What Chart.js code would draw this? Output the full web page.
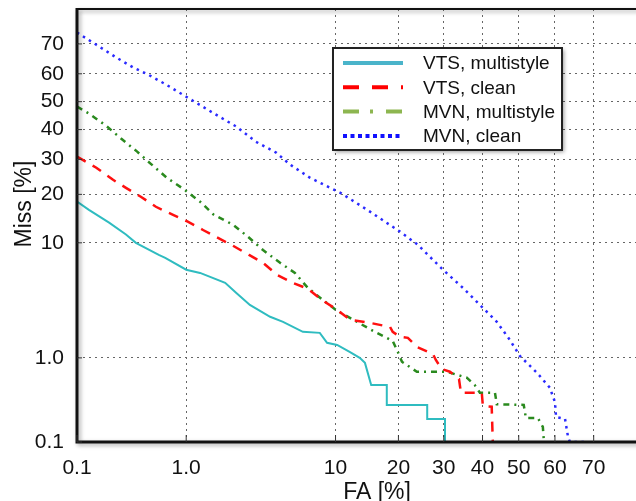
<!DOCTYPE html>
<html>
<head>
<meta charset="utf-8">
<script src="https://cdn.jsdelivr.net/npm/chart.js@4.4.1/dist/chart.umd.min.js"></script>
<style>
  html, body { margin: 0; padding: 0; background: #fff; overflow: hidden; }
  #wrap { width: 636px; height: 501px; position: relative; }
</style>
</head>
<body>
<div id="wrap"><canvas id="myChart"></canvas></div>
<script>
//data (FA and Miss in %)
const tickValues = [0.1, 1, 10, 20, 30, 40, 50, 60, 70];
const tickLabels = ['0.1', '1.0', '10', '20', '30', '40', '50', '60', '70'];

const vtsMultiFA   = [0.1, 0.132, 0.208, 0.30, 0.37, 0.59, 0.67, 1.0, 1.29, 2.0, 2.4, 3.0, 4.1, 4.96, 6.55, 8.2, 9.0, 10.2, 11.9, 13.3, 14.1, 15.1, 17.8, 17.8, 26.1, 26.1, 30.3, 30.3, 32.0];
const vtsMultiMiss = [18.2, 16.3, 13.6, 11.4, 10.0, 8.2, 7.8, 6.35, 6.0, 5.0, 4.14, 3.25, 2.54, 2.28, 1.83, 1.79, 1.43, 1.36, 1.15, 1.0, 0.885, 0.505, 0.505, 0.294, 0.294, 0.198, 0.198, 0.1, 0.1];

const vtsCleanFA   = [0.1, 0.155, 0.227, 0.30, 0.41, 0.557, 0.78, 1.03, 1.36, 1.77, 2.28, 2.96, 3.68, 4.54, 5.7, 7.0, 8.4, 10.2, 11.9, 14.9, 18.4, 18.9, 20.3, 21.9, 23.8, 27.4, 28.1, 29.5, 31.5, 33.8, 34.3, 39.8, 40.1, 42.5, 42.8];
const vtsCleanMiss = [30.9, 27.5, 23.9, 21.7, 19.4, 17.0, 15.2, 13.8, 12.2, 10.8, 9.55, 8.2, 7.17, 5.8, 5.0, 4.47, 3.6, 2.94, 2.38, 2.23, 2.04, 1.83, 1.64, 1.6, 1.3, 1.1, 0.95, 0.76, 0.71, 0.59, 0.41, 0.41, 0.286, 0.28, 0.1];

const mvnMultiFA   = [0.1, 0.132, 0.194, 0.27, 0.38, 0.50, 0.69, 0.94, 1.29, 1.65, 2.28, 2.91, 3.68, 4.75, 5.87, 7.0, 8.5, 10.2, 12.9, 15.7, 18.9, 19.9, 20.7, 23.8, 30.7, 35.8, 37.9, 39.3, 43.4, 43.9, 51.4, 52.0, 55.3, 56.7, 57.0];
const mvnMultiMiss = [48.2, 45.7, 41.4, 36.9, 32.5, 28.7, 24.5, 21.5, 18.2, 15.2, 13.2, 11.0, 8.9, 7.17, 6.0, 4.55, 3.6, 2.88, 2.28, 1.83, 1.49, 1.15, 0.91, 0.71, 0.71, 0.61, 0.505, 0.41, 0.41, 0.30, 0.295, 0.204, 0.204, 0.157, 0.1];

const mvnCleanFA   = [0.1, 0.155, 0.243, 0.35, 0.476, 0.68, 1.0, 1.71, 2.4, 3.3, 4.48, 5.48, 7.2, 10.6, 14.9, 20.3, 24.0, 29.8, 34.8, 40.1, 43.9, 47.5, 50.3, 55.1, 58.6, 60.0, 60.3, 62.7, 63.5, 64.0, 68.3];
const mvnCleanMiss = [73.5, 69.8, 65.6, 62.2, 59.7, 56.2, 51.8, 45.3, 41.1, 35.8, 32.2, 28.4, 24.5, 20.4, 15.9, 11.9, 9.7, 6.35, 4.55, 3.06, 2.28, 1.53, 1.05, 0.69, 0.47, 0.32, 0.21, 0.198, 0.116, 0.1, 0.1];

const FONT = "'Liberation Sans', Arial, Helvetica, sans-serif";

// inverse normal CDF (Acklam), input in percent -> normal deviate
function z(pct) {
    const p = pct / 100;
    const a = [-3.969683028665376e+01, 2.209460984245205e+02, -2.759285104469687e+02, 1.383577518672690e+02, -3.066479806614716e+01, 2.506628277459239e+00];
    const b = [-5.447609879822406e+01, 1.615858368580409e+02, -1.556989798598866e+02, 6.680131188771972e+01, -1.328068155288572e+01];
    const c = [-7.784894002430293e-03, -3.223964580411365e-01, -2.400758277161838e+00, -2.549732539343734e+00, 4.374664141464968e+00, 2.938163982698783e+00];
    const d = [7.784695709041462e-03, 3.224671290700398e-01, 2.445134137142996e+00, 3.754408661907416e+00];
    const plow = 0.02425;
    let q, r;
    if (p < plow) {
        q = Math.sqrt(-2 * Math.log(p));
        return (((((c[0]*q+c[1])*q+c[2])*q+c[3])*q+c[4])*q+c[5]) / ((((d[0]*q+d[1])*q+d[2])*q+d[3])*q+1);
    }
    if (p <= 1 - plow) {
        q = p - 0.5; r = q * q;
        return (((((a[0]*r+a[1])*r+a[2])*r+a[3])*r+a[4])*r+a[5])*q / (((((b[0]*r+b[1])*r+b[2])*r+b[3])*r+b[4])*r+1);
    }
    q = Math.sqrt(-2 * Math.log(1 - p));
    return -(((((c[0]*q+c[1])*q+c[2])*q+c[3])*q+c[4])*q+c[5]) / ((((d[0]*q+d[1])*q+d[2])*q+d[3])*q+1);
}

function toPoints(fa, miss) {
    return fa.map((v, i) => ({ x: z(v), y: z(miss[i]) }));
}

function setTicks(scale) {
    scale.ticks = tickValues.map(v => ({ value: z(v) }));
}

// frame with shadow + small inward ticks
const framePlugin = {
    id: 'frame',
    afterDatasetsDraw(chart) {
        const { ctx, chartArea: a, scales } = chart;
        ctx.save();
        ctx.strokeStyle = '#111';
        ctx.shadowColor = 'rgba(0,0,0,0.35)';
        ctx.shadowBlur = 4;
        ctx.shadowOffsetX = 2;
        ctx.shadowOffsetY = 2;
        ctx.lineWidth = 2;
        ctx.beginPath();
        ctx.moveTo(a.left, a.top); ctx.lineTo(a.right + 5, a.top);
        ctx.stroke();
        ctx.lineWidth = 3;
        ctx.beginPath();
        ctx.moveTo(a.left, a.top - 1); ctx.lineTo(a.left, a.bottom); ctx.lineTo(a.right + 5, a.bottom);
        ctx.stroke();
        ctx.shadowColor = 'transparent';
        ctx.lineWidth = 1;
        ctx.strokeStyle = '#333';
        ctx.beginPath();
        tickValues.forEach(v => {
            const x = scales.x.getPixelForValue(z(v));
            ctx.moveTo(x, a.bottom); ctx.lineTo(x, a.bottom - 7);
            const y = scales.y.getPixelForValue(z(v));
            ctx.moveTo(a.left, y); ctx.lineTo(a.left + 5, y);
        });
        ctx.stroke();
        ctx.restore();
    }
};

// legend box inside the plot
const legendPlugin = {
    id: 'boxLegend',
    afterDraw(chart) {
        const { ctx } = chart;
        const x0 = 333, y0 = 48, w = 229, h = 102;
        ctx.save();
        ctx.fillStyle = '#fff';
        ctx.shadowColor = 'rgba(0,0,0,0.4)';
        ctx.shadowBlur = 4;
        ctx.shadowOffsetX = 2;
        ctx.shadowOffsetY = 2;
        ctx.fillRect(x0, y0, w, h);
        ctx.shadowColor = 'transparent';
        ctx.strokeStyle = '#222';
        ctx.lineWidth = 2;
        ctx.strokeRect(x0, y0, w, h);
        ctx.font = '19px ' + FONT;
        ctx.textBaseline = 'middle';
        ctx.textAlign = 'left';
        chart.data.datasets.forEach((ds, i) => {
            const y = 63 + i * 24.3;
            ctx.strokeStyle = ds.legendColor;
            ctx.lineWidth = 4;
            ctx.setLineDash(ds.legendDash);
            ctx.beginPath();
            ctx.moveTo(343, y); ctx.lineTo(403, y);
            ctx.stroke();
            ctx.setLineDash([]);
            ctx.fillStyle = '#111';
            ctx.fillText(ds.label, 423, y + 1);
        });
        ctx.restore();
    }
};

// axis titles
const titlePlugin = {
    id: 'axisTitles',
    afterDraw(chart) {
        const { ctx } = chart;
        ctx.save();
        ctx.fillStyle = '#111';
        ctx.font = '23px ' + FONT;
        ctx.textAlign = 'center';
        ctx.textBaseline = 'alphabetic';
        ctx.fillText('FA [%]', 377, 499);
        ctx.translate(31, 204);
        ctx.rotate(-Math.PI / 2);
        ctx.fillText('Miss [%]', 0, 0);
        ctx.restore();
    }
};

const ctx = document.getElementById('myChart').getContext('2d');
const chart = new Chart(ctx, {
    type: 'line',
    data: {
        datasets: [
            {
                label: 'VTS, multistyle',
                data: toPoints(vtsMultiFA, vtsMultiMiss),
                borderColor: '#2fbcc0',
                borderWidth: 2,
                legendColor: '#4ab4ca',
                legendDash: []
            },
            {
                label: 'VTS, clean',
                data: toPoints(vtsCleanFA, vtsCleanMiss),
                borderColor: '#ff1010',
                borderWidth: 2.5,
                borderDash: [10, 8],
                legendColor: '#ff0000',
                legendDash: [16, 13]
            },
            {
                label: 'MVN, multistyle',
                data: toPoints(mvnMultiFA, mvnMultiMiss),
                borderColor: '#2a8a1e',
                borderWidth: 2.5,
                borderDash: [6, 5, 2, 5],
                legendColor: '#8db650',
                legendDash: [16, 11, 3, 13]
            },
            {
                label: 'MVN, clean',
                data: toPoints(mvnCleanFA, mvnCleanMiss),
                borderColor: '#2a2aff',
                borderWidth: 2.5,
                borderDash: [2.5, 4.5],
                legendColor: '#1010ff',
                legendDash: [4, 3.5]
            }
        ]
    },
    options: {
        responsive: true, maintainAspectRatio: false,
        animation: false,
        devicePixelRatio: 1,
        layout: { padding: { top: 9, left: 0, right: 0, bottom: 0 } },
        elements: { point: { radius: 0 }, line: { tension: 0, fill: false } },
        plugins: {
            legend: { display: false },
            tooltip: { enabled: false }
        },
        scales: {
            x: {
                type: 'linear',
                min: z(0.1), max: z(79.4),
                afterBuildTicks: setTicks,
                afterFit: s => { s.height = 59; s.paddingLeft = 0; s.paddingRight = 0; },
                ticks: {
                    callback: (v, i) => tickLabels[i],
                    color: '#111', padding: 14, maxRotation: 0, autoSkip: false,
                    font: { family: FONT, size: 21 }
                },
                grid: { color: '#666', lineWidth: 1, drawTicks: false },
                border: { display: false, dash: [2, 4] }
            },
            y: {
                type: 'linear',
                min: z(0.1), max: z(80),
                afterBuildTicks: setTicks,
                afterFit: s => { s.width = 77; s.paddingTop = 0; s.paddingBottom = 0; },
                ticks: {
                    callback: (v, i) => tickLabels[i],
                    color: '#111', padding: 13, autoSkip: false,
                    font: { family: FONT, size: 21 }
                },
                grid: { color: '#666', lineWidth: 1, drawTicks: false },
                border: { display: false, dash: [2, 4] }
            }
        }
    },
    plugins: [framePlugin, legendPlugin, titlePlugin]
});
</script>
</body>
</html>
